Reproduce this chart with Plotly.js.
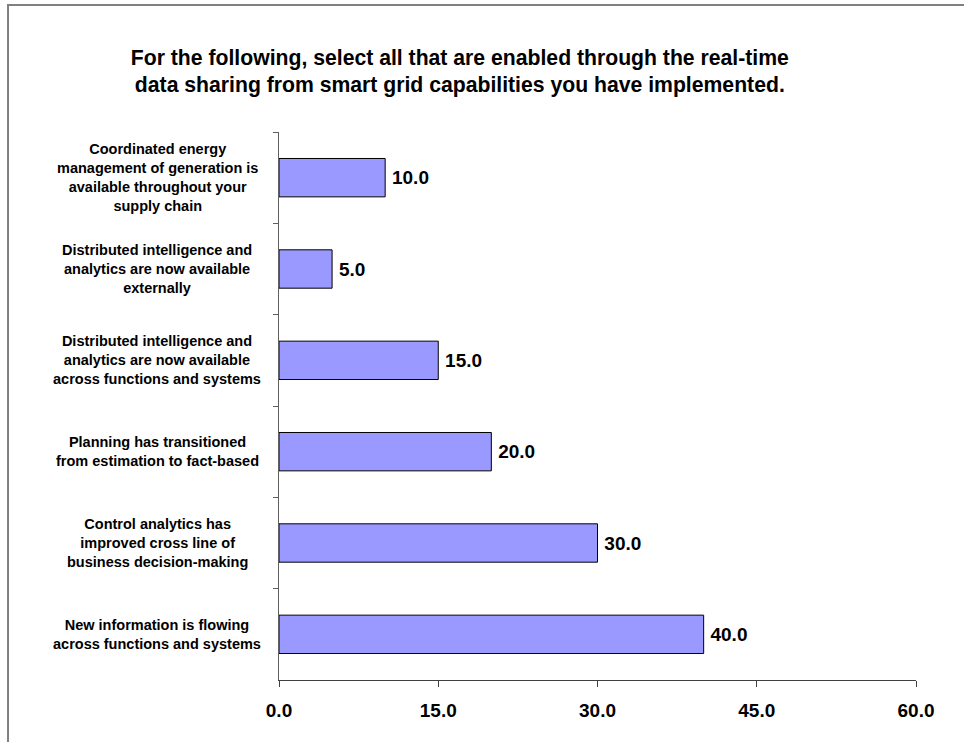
<!DOCTYPE html>
<html>
<head>
<meta charset="utf-8">
<script src="https://cdn.plot.ly/plotly-3.0.1.min.js"></script>
<style>html,body{margin:0;padding:0;background:#fff;}#chart{width:964px;height:742px;}</style>
</head>
<body>
<div id="chart"></div>
<script>
// Data (top to bottom as shown)
const categories = [
  "Coordinated energy<br>management of generation is<br>available throughout your<br>supply chain",
  "Distributed intelligence and<br>analytics are now available<br>externally",
  "Distributed intelligence and<br>analytics are now available<br>across functions and systems",
  "Planning has transitioned<br>from estimation to fact-based",
  "Control analytics has<br>improved cross line of<br>business decision-making",
  "New information is flowing<br>across functions and systems"
];
const values = [10.0, 5.0, 15.0, 20.0, 30.0, 40.0];
const xTicks = [0, 15, 30, 45, 60];
const titleText = "For the following, select all that are enabled through the real-time<br>data sharing from smart grid capabilities you have implemented.";

const FONT = "Liberation Sans, Arial, sans-serif";

const trace = {
  type: "bar",
  orientation: "h",
  y: categories,
  x: values,
  width: 0.42,
  marker: {color: "#9999FF", line: {color: "#000000", width: 1}},
  texttemplate: "\u2009%{x:.1f}",
  textposition: "outside",
  textfont: {family: FONT, size: 19, color: "#000", weight: "bold"},
  cliponaxis: false,
  hoverinfo: "none"
};

const annotations = categories.map(c => ({
  xref: "paper", yref: "y",
  x: -0.191, y: c,
  xanchor: "center", yanchor: "middle",
  text: c, align: "center", showarrow: false,
  font: {family: FONT, size: 14.5, color: "#000", weight: "bold"}
}));

const layout = {
  width: 964, height: 742,
  margin: {l: 279, r: 48, t: 132, b: 62},
  paper_bgcolor: "#fff", plot_bgcolor: "#fff",
  showlegend: false,
  font: {family: FONT, color: "#000"},
  title: {
    text: titleText,
    xref: "container", yref: "container",
    x: 0.477, xanchor: "center",
    y: 0.913, yanchor: "top",
    font: {family: FONT, size: 21.2, color: "#000", weight: "bold"}
  },
  xaxis: {
    range: [0, 60],
    tickvals: xTicks,
    tickformat: ".1f",
    showgrid: false, zeroline: false,
    showline: true, linecolor: "#404040", linewidth: 1,
    ticks: "outside", ticklen: 6, tickcolor: "#404040",
    ticklabelstandoff: 7,
    tickfont: {family: FONT, size: 19, color: "#000", weight: "bold"}
  },
  yaxis: {
    type: "category",
    autorange: "reversed",
    showticklabels: false,
    showgrid: false, zeroline: false,
    showline: true, linecolor: "#606060", linewidth: 1,
    ticks: "outside", ticklen: 5, tickcolor: "#606060",
    tickson: "boundaries"
  },
  annotations: annotations,
  shapes: [{
    type: "rect", xref: "paper", yref: "paper",
    x0: -0.4254, x1: 1.3, y0: -0.3, y1: 1.2318,
    line: {color: "#808080", width: 2}, fillcolor: "rgba(0,0,0,0)"
  }]
};

Plotly.newPlot("chart", [trace], layout, {displayModeBar: false, staticPlot: true});
</script>
</body>
</html>
